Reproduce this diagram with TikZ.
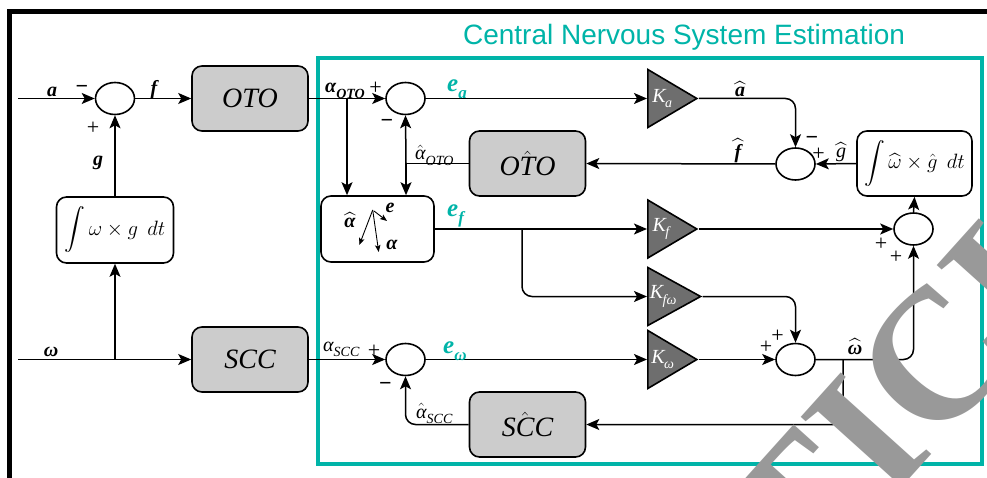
\documentclass[tikz,border=0pt]{standalone}
\usepackage{amsmath}
\usepackage{fontspec}
\setmainfont{Liberation Serif}
\newfontfamily\titlefont{Liberation Sans}
\usetikzlibrary{arrows.meta,shapes.geometric,calc}
\definecolor{cns}{RGB}{0,180,168}
\definecolor{boxgray}{RGB}{204,204,204}
\definecolor{trigray}{RGB}{110,110,110}
\definecolor{wmgray}{RGB}{153,153,153}
\newcommand\sbx[2][14]{\raisebox{-0.28em}{\fontsize{#1}{#1}\selectfont #2}}
\newcommand\Kl[1]{K\kern-0.5pt\sbx[14]{#1}}
\tikzset{
  ln/.style={line width=1.5pt},
  arr/.style={line width=1.5pt,-{Stealth[length=13pt,width=11pt,inset=3pt]}},
  varr/.style={line width=0.9pt,-{Stealth[length=7pt,width=5.5pt,inset=1.5pt]}},
  sumnode/.style={ellipse,draw,line width=1.6pt,fill=white,minimum width=39pt,minimum height=32pt,inner sep=0pt},
  blk/.style={draw,line width=1.6pt,rounded corners=10pt,fill=boxgray,minimum width=116pt,minimum height=65pt,inner sep=0pt,font=\fontsize{28}{30}\selectfont\itshape},
  wblk/.style={draw,line width=1.6pt,rounded corners=10pt,fill=white,minimum width=116pt,minimum height=65pt,inner sep=0pt,font=\fontsize{20}{22}\selectfont},
  gain/.style={isosceles triangle,isosceles triangle stretches,draw,line width=1.6pt,fill=trigray,minimum width=58pt,minimum height=49pt,inner sep=0pt,text=white,font=\fontsize{20}{22}\selectfont\itshape},
  lbl/.style={inner sep=0pt,font=\fontsize{20}{22}\selectfont\bfseries\itshape},
  lblr/.style={inner sep=0pt,font=\fontsize{20}{22}\selectfont\itshape},
  elbl/.style={inner sep=0pt,text=cns,font=\fontsize{25}{28}\selectfont\bfseries\itshape},
  pm/.style={inner sep=0pt,font=\fontsize{22}{24}\selectfont},
  pmb/.style={inner sep=0pt,font=\fontsize{22}{24}\selectfont\bfseries},
  wmark/.style={rotate=48,inner sep=0pt,text=wmgray,font=\fontsize{186}{186}\selectfont\bfseries},
}
\begin{document}
\begin{tikzpicture}[x=1pt,y=-1pt]
\useasboundingbox (0,0) rectangle (987,478);
\begin{scope}
\clip (0,0) rectangle (987,478);
% frames
\draw[line width=5pt] (9,500) -- (9,12) -- (1000,12);
\draw[cns,line width=4pt] (318,58) rectangle (982,464);
\node[anchor=base,inner sep=0pt,text=cns,font=\titlefont\fontsize{28}{30}\selectfont] (title) at (684,45) {Central Nervous System Estimation};

% blocks
\node[sumnode] (s1) at (115,98.5) {};
\node[blk] (oto) at (250,98.5) {OTO};
\node[wblk,minimum width=117pt,minimum height=66pt] (int1) at (115,230) {$\displaystyle\int \omega\times g\;\,dt$};
\node[blk] (scc) at (250,359.5) {SCC};
\node[sumnode] (s2) at (405.5,98.5) {};
\node[blk] (otoh) at (527.5,163.5) {O$\hat{\text{T}}$O};
\node[wblk,minimum width=113pt,minimum height=66pt] (abox) at (377.5,229) {};
\node[gain,anchor=lower side] (Ka) at (647,98.5) {\Kl{a}};
\node[sumnode] (s3) at (795.5,164) {};
\node[wblk,minimum width=115pt] (int2) at (914.5,163.5) {$\displaystyle\int \widehat{\omega}\times \hat{g}\;\,dt$};
\node[sumnode] (s4) at (913.5,229) {};
\node[gain,anchor=lower side] (Kf) at (647,229) {\Kl{f}};
\node[gain,anchor=lower side] (Kfw) at (647,296.5) {\Kl{fω}};
\node[gain,anchor=lower side] (Kw) at (647,359.5) {\Kl{ω}};
\node[sumnode] (s5) at (795.5,359.5) {};
\node[sumnode] (s6) at (405.5,359.5) {};
\node[blk] (scch) at (527.5,424.5) {S$\hat{\text{C}}$C};

% free ends and branch points
\coordinate (ain) at (18,98.5);
\coordinate (win) at (18,359.5);
\coordinate (wbr) at (115,359.5);
\coordinate (brA) at (347,98.5);
\coordinate (brB) at (406,163.5);
\coordinate (brC) at (522,229);
\coordinate (brD) at (843,359.5);

% connectors
\draw[arr] (ain) -- (s1.west);
\draw[arr] (s1.east) -- (oto.west);
\draw[arr] (int1.north) -- (s1.south);
\draw[arr] (win) -- (scc.west);
\draw[arr] (wbr) -- (int1.south);
\draw[arr] (oto.east) -- (s2.west);
\draw[arr] (brA) -- (brA |- abox.north);
\draw[ln] (otoh.west) -- (brB);
\draw[arr] (brB) -- (s2.south);
\draw[arr] (brB) -- (brB |- abox.north);
\draw[arr] (s2.east) -- (Ka.lower side);
\draw[arr,rounded corners=10pt] (Ka.apex) -| (s3.north);
\draw[arr] (s3.west) -- (otoh.east);
\draw[arr] (int2.west) -- (s3.east);
\draw[arr] (s4.north) -- (int2.south);
\draw[arr] (abox.east) -- (Kf.lower side);
\draw[arr,rounded corners=10pt] (brC) |- (Kfw.lower side);
\draw[arr] (Kf.apex) -- (s4.west);
\draw[arr,rounded corners=10pt] (Kfw.apex) -| (s5.north);
\draw[arr] (Kw.apex) -- (s5.west);
\draw[arr,rounded corners=10pt] (s5.east) -| (s4.south);
\draw[arr,rounded corners=10pt] (brD) |- (scch.east);
\draw[arr] (scc.east) -- (s6.west);
\draw[arr] (s6.east) -- (Kw.lower side);
\draw[arr,rounded corners=10pt] (scch.west) -| (s6.south);

% vector sketch in the comparison block
\coordinate (vO) at (372.7,210);
\coordinate (vA) at (359.3,245);
\coordinate (vB) at (378.7,252);
\coordinate (vE0) at (374,211);
\coordinate (vE1) at (387,221);
\draw[varr] (vO) -- (vA);
\draw[varr] (vO) -- (vB);
\draw[varr] (vE0) -- (vE1);
\node[lbl,anchor=base] (vla) at (350,228) {$\widehat{\text{α}}$};
\node[lbl,anchor=base] (vle) at (390,213) {e};
\node[lbl,anchor=base] (vlb) at (392,250) {α};

% labels
\node[lbl,anchor=base] (la) at (52,97) {a};
\node[pmb,anchor=base] (m1) at (82,94) {−};
\node[pm,anchor=base] (p1) at (93,134.5) {+};
\node[lbl,anchor=base] (lf) at (154,95) {f};
\node[lbl,anchor=base] (lg) at (98,166) {g};
\node[lbl,anchor=base] (lw) at (51,356) {ω};
\node[lbl,anchor=base west] (laoto) at (325,93) {α\sbx{OTO}};
\node[pm,anchor=base] (p2) at (375.5,94.5) {+};
\node[pmb,anchor=base] (m2) at (387,128) {−};
\node[lblr,anchor=base west] (lahoto) at (415,160) {$\hat{\text{α}}$\sbx{OTO}};
\node[elbl,anchor=base west] (lea) at (447,92) {e\sbx[17]{a}};
\node[lbl,anchor=base] (lah) at (740,97) {$\widehat{\text{a}}$};
\node[lbl,anchor=base] (lfh) at (738,159) {$\widehat{\text{f}}$};
\node[pmb,anchor=base] (m3) at (812,144.5) {−};
\node[pm,anchor=base] (p3) at (818.5,160.5) {+};
\node[lblr,anchor=base] (lgh) at (841,158) {$\widehat{\text{g}}$};
\node[elbl,anchor=base west] (lef) at (447,217) {e\sbx[17]{f}};
\node[pm,anchor=base] (p4) at (881,250.5) {+};
\node[pm,anchor=base] (p5) at (896,263.5) {+};
\node[pm,anchor=base] (p6) at (766,353.5) {+};
\node[pm,anchor=base] (p7) at (777.5,342.5) {+};
\node[lbl,anchor=base] (lwh) at (855,354) {$\widehat{\text{ω}}$};
\node[lblr,anchor=base west] (lascc) at (323,351) {α\sbx{SCC}};
\node[pm,anchor=base] (p8) at (374,357) {+};
\node[elbl,anchor=base west] (lew) at (443,353) {e\sbx[17]{ω}};
\node[pmb,anchor=base] (m4) at (385.5,390) {−};
\node[lblr,anchor=base west] (lahscc) at (416,418) {$\hat{\text{α}}$\sbx{SCC}};

% watermark
\node[wmark] (wI) at (866,436) {I};
\node[wmark,anchor=base east] (wT) at (wI.base west) {T};
\node[wmark,anchor=base west] (wC) at (wI.base east) {C};
\node[wmark,anchor=base west] (wL) at (wC.base east) {L};
\end{scope}
\end{tikzpicture}
\end{document}
